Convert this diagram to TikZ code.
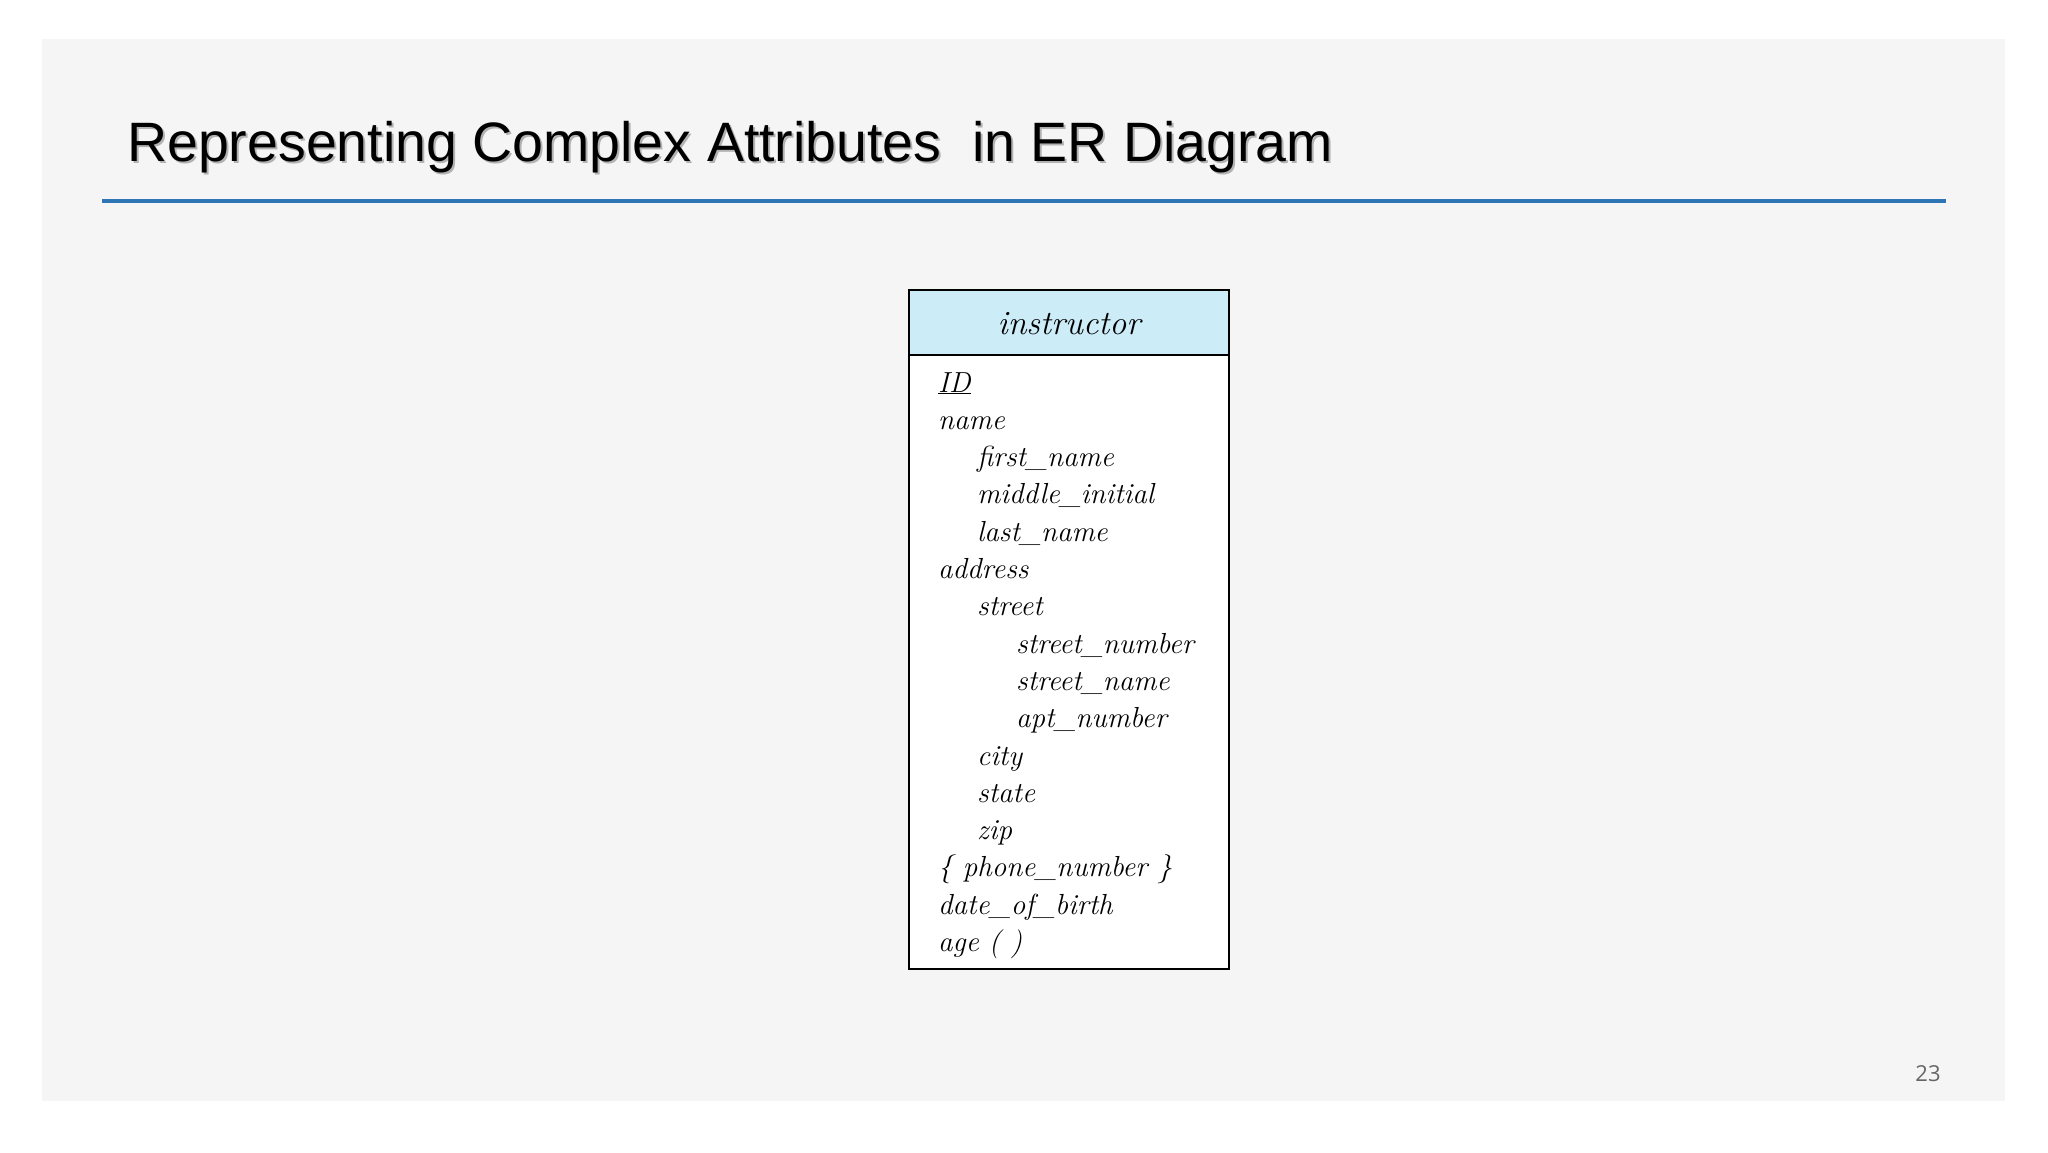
\documentclass[tikz,border=0pt]{standalone}
\usepackage{fontspec}
\newfontfamily\titlefont{Liberation Sans}
\newfontfamily\numfont{Open Sans}
\definecolor{rulebl}{RGB}{46,117,182}
\definecolor{hdrbl}{RGB}{204,236,248}
\begin{document}
\begin{tikzpicture}[x=1pt,y=-1pt,
  attr/.style={anchor=base west,inner sep=0pt,font=\fontsize{29}{29}\selectfont\itshape}]
\useasboundingbox (0,0) rectangle (2048,1152);
\fill[white] (0,0) rectangle (2048,1152);
\fill[black!4] (42,39) rectangle (2005,1101);
\node[anchor=base west,inner sep=0pt,text=black!30,font=\titlefont\fontsize{55.5}{55.5}\selectfont] at (129,163) {Representing Complex Attributes\ \ in ER Diagram};
\node[anchor=base west,inner sep=0pt,font=\titlefont\fontsize{55.5}{55.5}\selectfont] (title) at (127,161) {Representing Complex Attributes\ \ in ER Diagram};
\draw[line width=4pt,color=rulebl] (102,201) -- (1946,201);
\fill[white] (909,290) rectangle (1229,969);
\fill[hdrbl] (909,290) rectangle (1229,355);
\draw[line width=1.2pt] (909,355) -- (1229,355);
\draw[line width=1.2pt] (909,290) rectangle (1229,969);
\node[anchor=base,inner sep=0pt,font=\fontsize{34}{34}\selectfont\itshape] (hdr) at (1069,334) {instructor};
\def\ls{37.3}
\node[attr] (a1) at (938,392) {\underline{ID}};
\node[attr] (a2) at (938,392+1*\ls) {name};
\node[attr] (a3) at (977,392+2*\ls) {first\_name};
\node[attr] (a4) at (977,392+3*\ls) {middle\_initial};
\node[attr] (a5) at (977,392+4*\ls) {last\_name};
\node[attr] (a6) at (938,392+5*\ls) {address};
\node[attr] (a7) at (977,392+6*\ls) {street};
\node[attr] (a8) at (1016,392+7*\ls) {street\_number};
\node[attr] (a9) at (1016,392+8*\ls) {street\_name};
\node[attr] (a10) at (1016,392+9*\ls) {apt\_number};
\node[attr] (a11) at (977,392+10*\ls) {city};
\node[attr] (a12) at (977,392+11*\ls) {state};
\node[attr] (a13) at (977,392+12*\ls) {zip};
\node[attr] (a14) at (938,392+13*\ls) {\{ phone\_number \}};
\node[attr] (a15) at (938,392+14*\ls) {date\_of\_birth};
\node[attr] (a16) at (938,392+15*\ls) {age ( )};
\node[anchor=base,inner sep=0pt,text=black!60,font=\numfont\fontsize{22}{22}\selectfont] (pg) at (1928,1081) {23};
\end{tikzpicture}
\end{document}
